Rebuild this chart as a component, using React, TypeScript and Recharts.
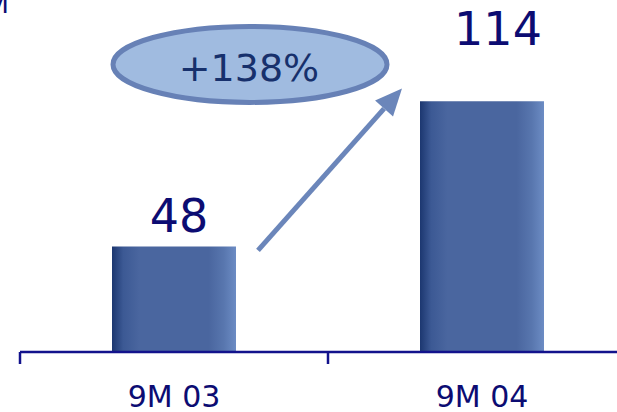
import React from "react";
import { BarChart, Bar, XAxis, YAxis, LabelList, ReferenceDot } from "recharts";

const periods = ["9M 03", "9M 04"];
const values = [48, 114];
const growthLabel = "+138%";
const unitLabel = "€M";

const data = periods.map((p, i) => ({ period: p, value: values[i] }));

const NAVY = "#0c0c72";
const AXIS = "#12128c";
const FONT = "'DejaVu Sans', Verdana, sans-serif";

function PeriodTick(props: any) {
  const { x, y, payload } = props;
  const half = payload && payload.offset ? payload.offset : 154;
  return (
    <g>
      <line x1={x - half} y1={y} x2={x - half} y2={y + 12} stroke={AXIS} strokeWidth={2.5} />
      <text x={x} y={y + 55} textAnchor="middle" fontFamily={FONT} fontSize={30} fill={NAVY}>
        {payload.value}
      </text>
    </g>
  );
}

function ValueLabel(props: any) {
  const { x, y, width, value, index } = props;
  // labels sit a bit right of the bar centre in the original
  const gap = index === 1 ? 56 : 14;
  const shift = index === 1 ? 16 : 5;
  return (
    <text x={x + width / 2 + shift} y={y - gap} textAnchor="middle" fontFamily={FONT} fontSize={46} fill={NAVY}>
      {value}
    </text>
  );
}

// growth bubble + arrow, anchored on the top of the first bar
function GrowthMark(props: any) {
  const { cx, cy } = props;
  const sx = cx + 84;
  const sy = cy + 4;
  const tx = cx + 228;
  const ty = cy - 158;
  const dx = tx - sx;
  const dy = ty - sy;
  const len = Math.sqrt(dx * dx + dy * dy);
  const ux = dx / len;
  const uy = dy / len;
  const bx = tx - ux * 27;
  const by = ty - uy * 27;
  const px = -uy * 12;
  const py = ux * 12;
  return (
    <g>
      <ellipse cx={cx + 76} cy={cy - 182} rx={137} ry={38} fill="#a0bbe0" stroke="#6781b6" strokeWidth={5} />
      <text x={cx + 75} y={cy - 165} textAnchor="middle" fontFamily={FONT} fontSize={38} fill="#17306c">
        {growthLabel}
      </text>
      <line x1={sx} y1={sy} x2={bx} y2={by} stroke="#6b86ba" strokeWidth={5} />
      <polygon points={`${tx},${ty} ${bx + px},${by + py} ${bx - px},${by - py}`} fill="#6b86ba" />
    </g>
  );
}

export default function App() {
  return (
    <div style={{ position: "absolute", left: 0, top: 0, width: 617, height: 412, overflow: "hidden" }}>
      <BarChart width={640} height={412} data={data} margin={{ top: 0, right: 4, left: 20, bottom: 0 }}>
        <defs>
          <linearGradient id="barShade" x1="0" y1="0" x2="1" y2="0">
            <stop offset="0%" stopColor="#1c3770" />
            <stop offset="9%" stopColor="#3c5994" />
            <stop offset="22%" stopColor="#4a669f" />
            <stop offset="78%" stopColor="#4a669f" />
            <stop offset="90%" stopColor="#5876ae" />
            <stop offset="100%" stopColor="#6c8cc4" />
          </linearGradient>
        </defs>
        <XAxis
          dataKey="period"
          height={60}
          interval={0}
          tickSize={0}
          tickMargin={0}
          tickLine={false}
          axisLine={{ stroke: AXIS, strokeWidth: 2.5 }}
          tick={<PeriodTick />}
        />
        <YAxis hide domain={[0, 160]} />
        <Bar dataKey="value" barSize={124} fill="url(#barShade)" isAnimationActive={false}>
          <LabelList dataKey="value" content={<ValueLabel />} />
        </Bar>
        <ReferenceDot x={periods[0]} y={values[0]} r={0} shape={<GrowthMark />} />
      </BarChart>
      <svg width={40} height={30} style={{ position: "absolute", left: 0, top: 0 }}>
        <text x={9} y={13} textAnchor="end" fontFamily={FONT} fontSize={26} fill={NAVY}>
          {unitLabel}
        </text>
      </svg>
    </div>
  );
}
